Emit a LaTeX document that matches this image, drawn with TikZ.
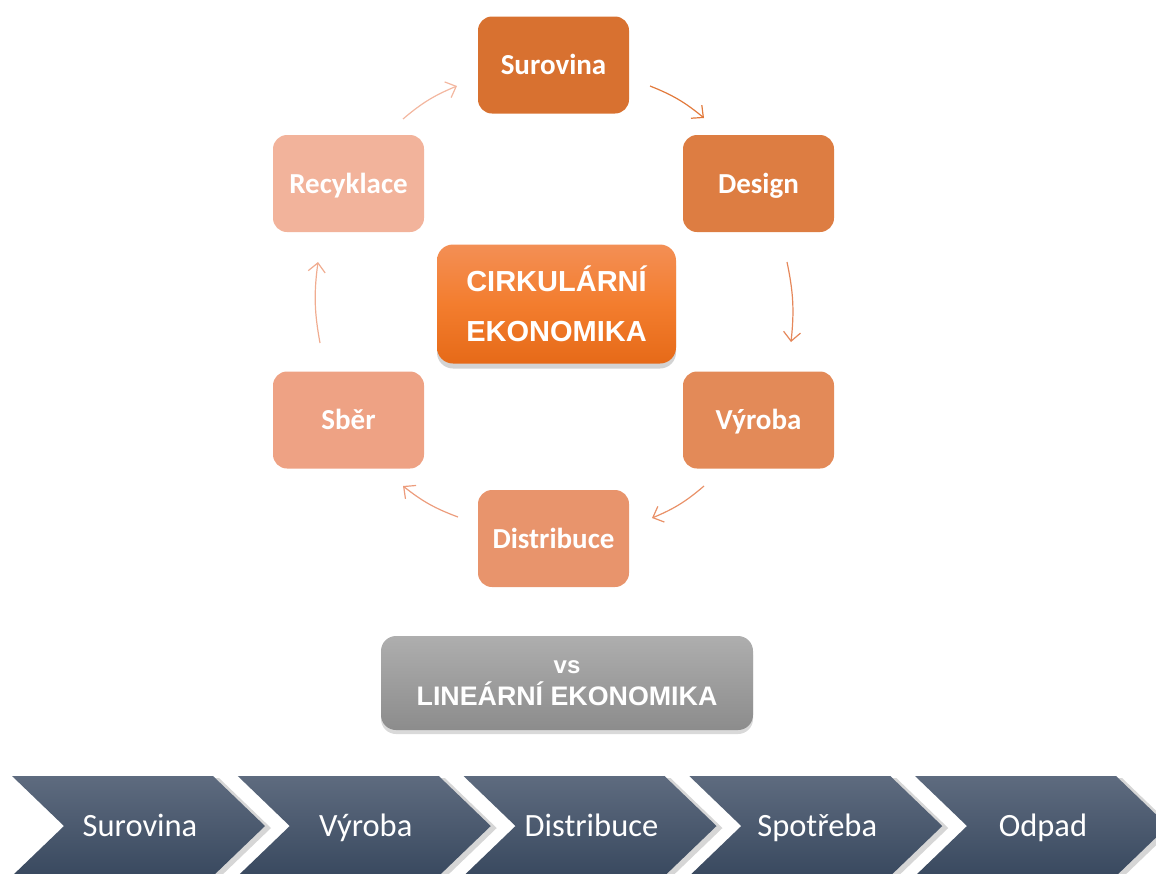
\documentclass[tikz,border=0pt]{standalone}
\usepackage{fontspec}
\setmainfont{Carlito}
\newfontfamily\arialf{Liberation Sans}
\usetikzlibrary{arrows.meta,shadows}
\definecolor{cS}{HTML}{D87130}
\definecolor{cD}{HTML}{DD7D42}
\definecolor{cV}{HTML}{E38A58}
\definecolor{cDi}{HTML}{E8946C}
\definecolor{cSb}{HTML}{EEA284}
\definecolor{cR}{HTML}{F2B39B}
\definecolor{aA}{HTML}{E27A3C}
\definecolor{aB}{HTML}{E5875A}
\definecolor{aC}{HTML}{E99168}
\definecolor{aD}{HTML}{EC9C7C}
\definecolor{aE}{HTML}{F0AC90}
\definecolor{aF}{HTML}{F3B7A0}
\definecolor{cTop}{HTML}{F38F55}
\definecolor{cMid}{HTML}{F37D2E}
\definecolor{cBot}{HTML}{E66A18}
\definecolor{gTop}{HTML}{AEAEAE}
\definecolor{gBot}{HTML}{8C8C8C}
\definecolor{chTop}{HTML}{5E6B7F}
\definecolor{chBot}{HTML}{39495F}
\begin{document}
\begin{tikzpicture}[x=1pt,y=-1pt,
  cbox/.style={rounded corners=14pt, minimum width=151pt, minimum height=97pt,
    inner sep=0pt, text=white, text height=19pt, text depth=0pt,
    font=\bfseries\fontsize{29}{34}\selectfont},
  cyc/.style={line width=1.2pt, -{Straight Barb[length=9pt,width=17pt]}},
  chev/.style={top color=chTop, bottom color=chBot},
  chevshadow/.style={fill=black, opacity=0.16},
  chevtext/.style={text=white, font=\fontsize{32.5}{38}\selectfont, inner sep=0pt, anchor=base}]
\useasboundingbox (0,0) rectangle (1156,873);
\clip (0,0) rectangle (1156,873);

% cycle boxes
\node[cbox, fill=cS]  (sur) at (553.5,65)    {Surovina};
\node[cbox, fill=cD]  (des) at (758.5,183.5) {Design};
\node[cbox, fill=cV]  (vyr) at (758.5,420)   {Výroba};
\node[cbox, fill=cDi] (dis) at (553.5,538.5) {Distribuce};
\node[cbox, fill=cSb] (sbe) at (348.5,420)   {Sběr};
\node[cbox, fill=cR]  (rec) at (348.5,183.5) {Recyklace};

% centre box
\node[rounded corners=16pt, minimum width=239pt, minimum height=119pt, inner sep=0pt,
  top color=cTop, bottom color=cBot, middle color=cMid,
  drop shadow={shadow xshift=0pt, shadow yshift=-5pt, opacity=0.35},
  text=white, align=center, font=\arialf\bfseries\fontsize{29}{50}\selectfont]
  (cir) at (556.5,304) {CIRKULÁRNÍ\\EKONOMIKA};

% arrows
\coordinate (a1s) at (650,86);  \coordinate (a1e) at (704,118);
\coordinate (a2s) at (787,262); \coordinate (a2e) at (791,342);
\coordinate (a3s) at (704,486); \coordinate (a3e) at (652,518);
\coordinate (a4s) at (458,517); \coordinate (a4e) at (403,486);
\coordinate (a5s) at (320,343); \coordinate (a5e) at (318,262);
\coordinate (a6s) at (403,119); \coordinate (a6e) at (457,86);
\draw[cyc, aA] (a1s) to[bend left=9] (a1e);
\draw[cyc, aB] (a2s) to[bend left=9] (a2e);
\draw[cyc, aC] (a3s) to[bend left=9] (a3e);
\draw[cyc, aD] (a4s) to[bend left=9] (a4e);
\draw[cyc, aE] (a5s) to[bend left=9] (a5e);
\draw[cyc, aF] (a6s) to[bend left=9] (a6e);

% vs box
\node[rounded corners=15pt, minimum width=372pt, minimum height=94pt, inner sep=0pt,
  top color=gTop, bottom color=gBot,
  drop shadow={shadow xshift=0pt, shadow yshift=-4pt, opacity=0.3},
  text=white, align=center, font=\arialf\bfseries\fontsize{26.8}{32}\selectfont]
  (vs) at (567,683) {{\fontsize{24}{28}\selectfont vs}\\LINEÁRNÍ EKONOMIKA};

% linear chevrons
\foreach \k/\lab/\nm in {0/Surovina/l1, 1/Výroba/l2, 2/Distribuce/l3, 3/Spotřeba/l4, 4/Odpad/l5} {
  \pgfmathsetmacro{\xo}{12+225.75*\k}
  \fill[chevshadow] (\xo+6,778) -- (\xo+207,778) -- (\xo+259,828) -- (\xo+207,878)
     -- (\xo+6,878) -- (\xo+58,828) -- cycle;
  \path[chev] (\xo,776) -- (\xo+201,776) -- (\xo+253,826) -- (\xo+201,876)
     -- (\xo,876) -- (\xo+52,826) -- cycle;
  \node[chevtext] (\nm) at (\xo+128,836) {\lab};
}
\end{tikzpicture}
\end{document}
